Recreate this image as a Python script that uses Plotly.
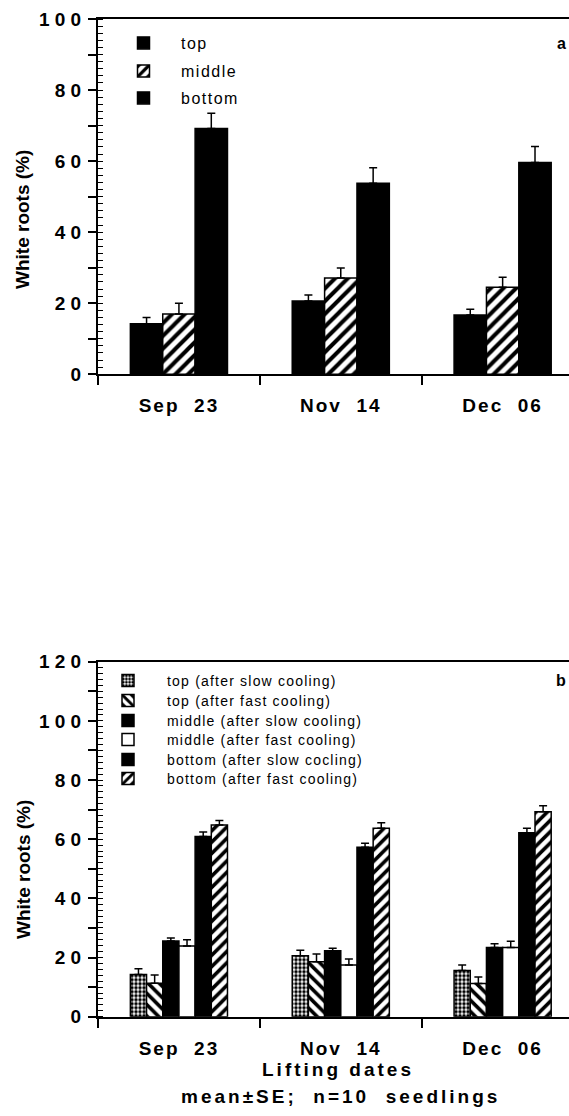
import plotly.graph_objects as go

W, H = 569, 1116

# ---------------- data ----------------
dates = ["Sep 23", "Nov 14", "Dec 06"]
date_labels = ["Sep\u00a0\u00a023", "Nov\u00a0\u00a014", "Dec\u00a0\u00a006"]

# panel a : white roots (%) by root zone
a_names = ["top", "middle", "bottom"]
a_top = [14.2, 20.6, 16.7]
a_top_se = [1.8, 1.7, 1.6]
a_middle = [17.0, 27.1, 24.5]
a_middle_se = [3.0, 2.8, 2.8]
a_bottom = [69.2, 53.8, 59.6]
a_bottom_se = [4.3, 4.3, 4.5]

# panel b : white roots (%) after slow / fast cooling
b_names = ["top (after slow cooling)", "top (after fast cooling)",
           "middle (after slow cooling)", "middle (after fast cooling)",
           "bottom (after slow cocling)", "bottom (after fast cooling)"]
b_top_slow = [14.3, 20.6, 15.6]
b_top_slow_se = [1.9, 1.9, 1.9]
b_top_fast = [11.3, 18.6, 11.2]
b_top_fast_se = [2.8, 2.6, 2.2]
b_mid_slow = [25.6, 22.3, 23.4]
b_mid_slow_se = [1.0, 0.8, 1.3]
b_mid_fast = [23.9, 17.5, 23.4]
b_mid_fast_se = [2.1, 2.0, 2.1]
b_bot_slow = [60.9, 57.3, 62.2]
b_bot_slow_se = [1.5, 1.3, 1.5]
b_bot_fast = [64.8, 63.7, 69.3]
b_bot_fast_se = [1.5, 1.9, 2.0]

y_title = "White roots (%)"
x_title = "Lifting dates"
note = "mean\u00b1SE;\u00a0 n=10\u00a0 seedlings"

# ---------------- styles ----------------
FONT = "Liberation Sans, Arial, sans-serif"
# (fill, pattern shape, pattern size, solidity)
a_styles = [("black", "", 8, 0.3), ("white", "/", 9, 0.45), ("black", "", 8, 0.3)]
b_styles = [("white", ".", 4, 0.6), ("white", "\\", 8, 0.45), ("black", "", 8, 0.3),
            ("white", "", 8, 0.3), ("black", "", 8, 0.3), ("white", "/", 8, 0.45)]

# legend row centres (px) and icon centre / text start (px)
a_leg_rows = [43, 71, 98]
b_leg_rows = [681, 701, 721, 740, 760, 779]
a_icon_x, a_text_x = 143.5, 181
b_icon_x, b_text_x = 128, 167


def px_x(p):
    return p / W


def px_y(p):
    return 1 - p / H


def bar(name, y, se, style, xa, ya, leg, spacing):
    fill, shape, size, sol = style
    return go.Bar(
        x=dates, y=y, name=f'<span style="letter-spacing:{spacing}px">{name}</span>',
        xaxis=xa, yaxis=ya, legend=leg,
        marker=dict(color=fill, line=dict(color="black", width=1.5),
                    pattern=dict(shape=shape, fgcolor="black", bgcolor=fill,
                                 size=size, solidity=sol)),
        error_y=dict(type="data", symmetric=False, array=se, arrayminus=[0] * len(se),
                     color="black", thickness=1.5, width=4),
    )


def legend_cfg(icon_x, text_x, row, size):
    gap = text_x - icon_x
    itemwidth = max(30, 2 * gap - 10)
    centre = (itemwidth + 10) / 2
    return dict(x=px_x(icon_x - centre), y=px_y(row), xanchor="left", yanchor="middle",
                bgcolor="rgba(0,0,0,0)", borderwidth=0,
                font=dict(family=FONT, size=size, color="black"), itemwidth=itemwidth)


fig = go.Figure()
a_vals = [(a_top, a_top_se), (a_middle, a_middle_se), (a_bottom, a_bottom_se)]
b_vals = [(b_top_slow, b_top_slow_se), (b_top_fast, b_top_fast_se),
          (b_mid_slow, b_mid_slow_se), (b_mid_fast, b_mid_fast_se),
          (b_bot_slow, b_bot_slow_se), (b_bot_fast, b_bot_fast_se)]

layout_legends = {}
n = 0
for i, (name, (v, se)) in enumerate(zip(a_names, a_vals)):
    n += 1
    key = "legend" if n == 1 else f"legend{n}"
    fig.add_trace(bar(name, v, se, a_styles[i], "x", "y", key, 1.5))
    layout_legends[key] = legend_cfg(a_icon_x, a_text_x, a_leg_rows[i], 16)
for i, (name, (v, se)) in enumerate(zip(b_names, b_vals)):
    n += 1
    key = f"legend{n}"
    fig.add_trace(bar(name, v, se, b_styles[i], "x2", "y2", key, 1.2))
    layout_legends[key] = legend_cfg(b_icon_x, b_text_x, b_leg_rows[i], 14)


def yaxis_cfg(top, dom):
    vals = list(range(0, top + 1, 10))
    text = [" ".join(str(v)) if v % 20 == 0 else "" for v in vals]
    return dict(domain=dom, range=[0, top], tickmode="array", tickvals=vals, ticktext=text,
                ticks="outside", ticklen=8, tickwidth=1.5, tickcolor="black",
                minor=dict(tickmode="linear", tick0=0, dtick=2, ticks="inside", ticklen=5,
                           tickwidth=1, tickcolor="black"),
                showline=True, linewidth=2, linecolor="black", showgrid=False, zeroline=False,
                tickfont=dict(family=FONT, size=19, color="black", weight="bold"),
                ticklabelstandoff=3, automargin=False)


def xaxis_cfg(anchor):
    return dict(domain=[px_x(98), 1], range=[-0.5, 2.41], type="category", anchor=anchor,
                tickmode="array", tickvals=dates,
                ticktext=[f'<span style="letter-spacing:2px">{t}</span>' for t in date_labels],
                tickson="boundaries", ticks="outside", ticklen=9, tickwidth=1.5, tickcolor="black",
                showline=True, linewidth=2, linecolor="black", mirror=True, showgrid=False,
                tickfont=dict(family=FONT, size=19, color="black", weight="bold"),
                ticklabelstandoff=13, automargin=False)


fig.update_layout(
    template="none",
    width=W, height=H, autosize=False,
    margin=dict(l=0, r=0, t=0, b=0, pad=0, autoexpand=False),
    paper_bgcolor="white", plot_bgcolor="white",
    barmode="group", bargap=0.4, bargroupgap=0,
    xaxis=xaxis_cfg("y"), yaxis=yaxis_cfg(100, [px_y(374.3), px_y(19)]),
    xaxis2=xaxis_cfg("y2"), yaxis2=yaxis_cfg(120, [px_y(1016.7), px_y(661.7)]),
    showlegend=True,
    **layout_legends,
)

ann_font = dict(family=FONT, color="black", weight="bold")
annotations = [
    dict(text=y_title, x=px_x(23), y=px_y(220), textangle=-90,
         font=dict(size=19, **ann_font)),
    dict(text=y_title, x=px_x(23), y=px_y(870), textangle=-90,
         font=dict(size=19, **ann_font)),
    dict(text="a", x=px_x(561), y=px_y(43), font=dict(size=16, **ann_font)),
    dict(text="b", x=px_x(561), y=px_y(680), font=dict(size=16, **ann_font)),
    dict(text=f'<span style="letter-spacing:3px">{x_title}</span>', x=px_x(338), y=px_y(1069),
         font=dict(size=19, **ann_font)),
    dict(text=f'<span style="letter-spacing:3px">{note}</span>', x=px_x(340), y=px_y(1096),
         font=dict(size=19, **ann_font)),
]
for a in annotations:
    a.update(xref="paper", yref="paper", showarrow=False, xanchor="center", yanchor="middle")
fig.update_layout(annotations=annotations)

# remove the page's default body margin so the figure sits at the window origin
fig.write_html("out.html",
               config={"displayModeBar": False},
               post_script="document.body.style.margin='0px';"
                           "document.body.style.overflow='hidden';")
